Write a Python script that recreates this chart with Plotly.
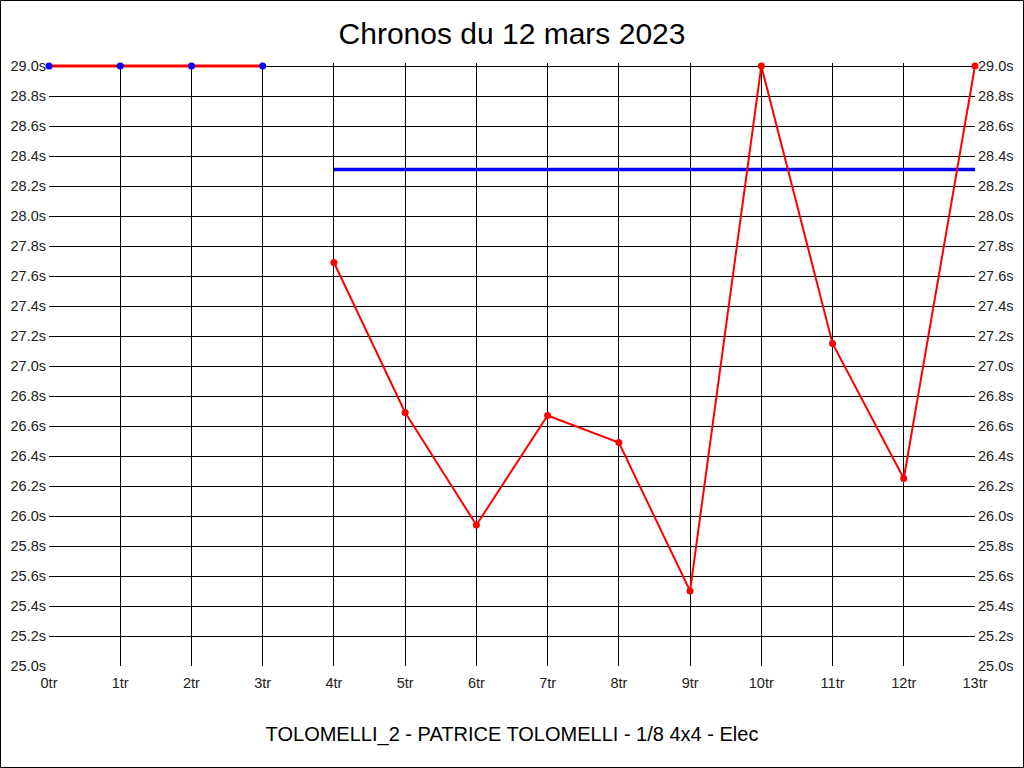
import plotly.graph_objects as go

laps = ["0tr", "1tr", "2tr", "3tr", "4tr", "5tr", "6tr", "7tr", "8tr", "9tr", "10tr", "11tr", "12tr", "13tr"]
lap_idx = list(range(len(laps)))

warmup_x = [0, 1, 2, 3]
warmup_times = [29.0, 29.0, 29.0, 29.0]

race_x = [4, 5, 6, 7, 8, 9, 10, 11, 12, 13]
race_times = [27.69, 26.69, 25.94, 26.67, 26.49, 25.50, 29.0, 27.15, 26.25, 29.0]

ref_x = [4, 13]
ref_times = [28.31, 28.31]

y_ticks = [round(25.0 + 0.2 * i, 1) for i in range(21)]

PH = 603  # plot height in px (600 px for 4 s + 3 px headroom so top lines are not clipped)

fig = go.Figure()
fig.add_trace(go.Scatter(x=ref_x, y=ref_times, mode="lines",
                         line=dict(color="#0000ff", width=3.5), showlegend=False))
fig.add_trace(go.Scatter(x=warmup_x, y=warmup_times, mode="lines+markers", cliponaxis=False,
                         line=dict(color="#ff0000", width=3.2),
                         marker=dict(color="#0000ff", size=7), showlegend=False))
fig.add_trace(go.Scatter(x=race_x, y=race_times, mode="lines+markers", cliponaxis=False,
                         line=dict(color="#ff0000", width=2),
                         marker=dict(color="#ff0000", size=7), showlegend=False))
# invisible trace to anchor right axis
fig.add_trace(go.Scatter(x=[0], y=[25.0], yaxis="y2", mode="markers",
                         marker=dict(opacity=0), showlegend=False, hoverinfo="skip"))

axis_font = dict(family="Liberation Sans, Arial, sans-serif", size=14.5, color="#222222")

fig.update_layout(
    width=1024, height=768, autosize=False,
    margin=dict(l=49, r=49, t=63, b=102, autoexpand=False),
    paper_bgcolor="white", plot_bgcolor="white",
    title=dict(text="Chronos du 12 mars 2023", x=0.5, xanchor="center",
               y=1 - 33 / 768, yanchor="middle",
               font=dict(family="Liberation Sans, Arial, sans-serif", size=30, color="#000000")),
    xaxis=dict(range=[0, 13], tickvals=lap_idx, ticktext=laps, showgrid=True,
               gridcolor="#000000", gridwidth=1, zeroline=False, ticks="",
               tickfont=axis_font, showline=False, ticklabelstandoff=6,
               title=dict(text="TOLOMELLI_2 - PATRICE TOLOMELLI - 1/8 4x4 - Elec",
                          font=dict(family="Liberation Sans, Arial, sans-serif", size=20, color="#000000"),
                          standoff=37)),
    yaxis=dict(range=[25.0, 29.02], tickvals=y_ticks, ticktext=[f"{v:.1f}s" for v in y_ticks],
               showgrid=True, gridcolor="#000000", gridwidth=1, zeroline=False,
               ticks="", tickfont=axis_font, showline=False, ticklabelstandoff=2),
    yaxis2=dict(range=[25.0, 29.02], tickvals=y_ticks, ticktext=[f"{v:.1f}s" for v in y_ticks],
                overlaying="y", side="right", showgrid=False, zeroline=False,
                ticks="", tickfont=axis_font, showline=False, ticklabelstandoff=2),
    shapes=[
        dict(type="rect", xref="paper", yref="paper",
             x0=-48.5 / 926, x1=1 + 48.5 / 926, y0=-101.5 / PH, y1=1 + 62.5 / PH,
             line=dict(color="#000000", width=1), fillcolor="rgba(0,0,0,0)", layer="below"),
        # white strip hiding gridline stubs above the 29.0s line
        dict(type="rect", xref="paper", yref="paper",
             x0=-0.003, x1=1.003, y0=1 - 2.4 / PH, y1=1 + 1 / PH,
             line=dict(width=0), fillcolor="white", layer="between"),
    ],
)

fig.write_html("out.html", config={"displayModeBar": False, "responsive": False},
               post_script="document.body.style.margin='0';document.body.style.overflow='hidden';")
